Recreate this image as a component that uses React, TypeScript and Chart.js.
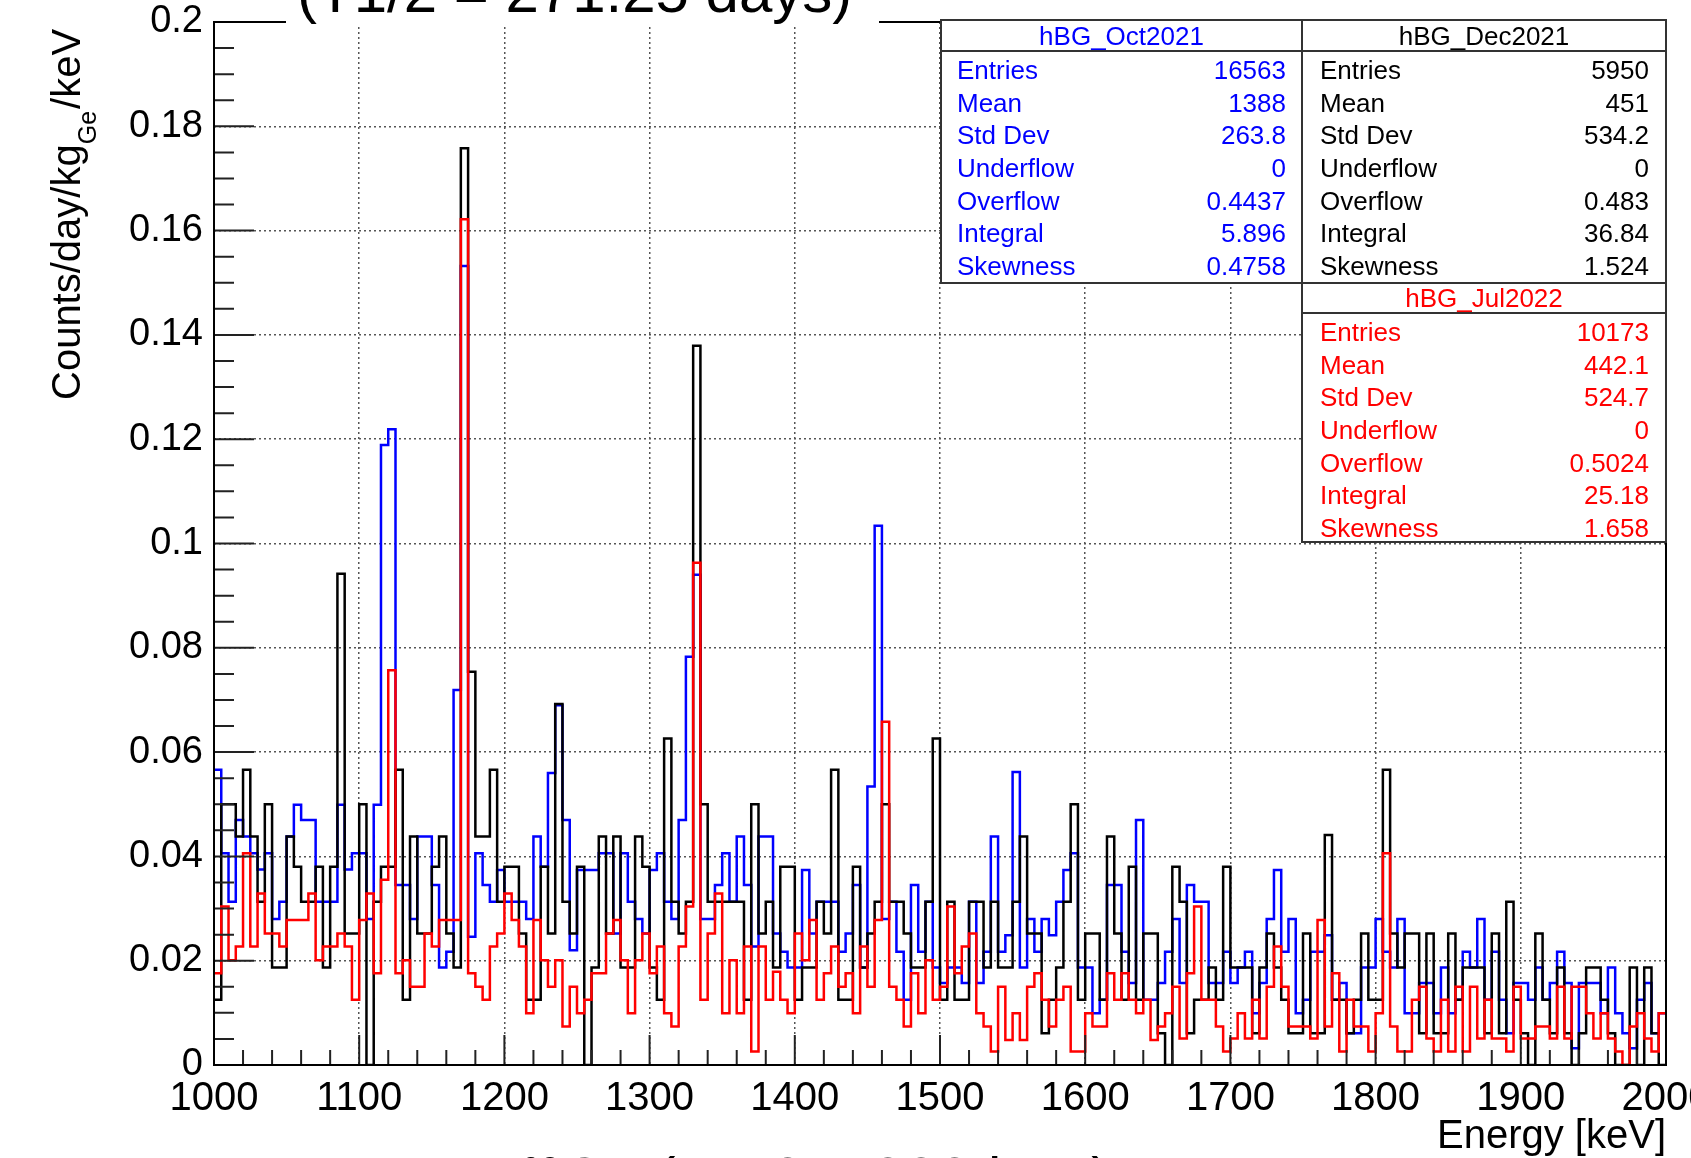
import React, { useEffect, useRef } from "react";
import { Chart, registerables } from "chart.js";

Chart.register(...registerables);

// Histogram binning: 200 bins of 5 keV from 1000 keV
const BIN_START = 1000;
const BIN_WIDTH = 5;

const X_TICKS = [1000, 1100, 1200, 1300, 1400, 1500, 1600, 1700, 1800, 1900, 2000];
const Y_TICKS = [0, 0.02, 0.04, 0.06, 0.08, 0.1, 0.12, 0.14, 0.16, 0.18, 0.2];

// hBG_Oct2021 (blue)
const OCT2021 = [
  0.0566, 0.0406, 0.0313, 0.047, 0.0438, 0.0406, 0.0375, 0.0406, 0.028, 0.0313,
  0.0438, 0.0499, 0.047, 0.047, 0.0313, 0.0313, 0.0313, 0.0499, 0.0375, 0.0406,
  0.0406, 0.028, 0.0499, 0.1189, 0.1219, 0.0345, 0.0345, 0.028, 0.0438, 0.0438,
  0.0345, 0.0187, 0.0217, 0.0719, 0.1532, 0.0246, 0.0406, 0.0345, 0.0313, 0.0374,
  0.0313, 0.0313, 0.0313, 0.028, 0.0438, 0.038, 0.056, 0.069, 0.047, 0.022,
  0.0374, 0.0374, 0.0374, 0.0406, 0.0406, 0.0252, 0.0406, 0.0313, 0.028, 0.0252,
  0.0374, 0.0406, 0.0313, 0.028, 0.047, 0.0783, 0.094, 0.028, 0.028, 0.0345,
  0.0406, 0.0313, 0.0438, 0.0345, 0.0227, 0.0438, 0.0438, 0.0252, 0.0217, 0.0187,
  0.0187, 0.0374, 0.0252, 0.0313, 0.0313, 0.0313, 0.0217, 0.0252, 0.0345, 0.0187,
  0.0534, 0.1034, 0.028, 0.0313, 0.0217, 0.0125, 0.0345, 0.0217, 0.0313, 0.0187,
  0.0157, 0.0187, 0.0187, 0.0157, 0.0313, 0.0157, 0.0217, 0.0438, 0.0217, 0.0249,
  0.0562, 0.0187, 0.028, 0.0217, 0.028, 0.0249, 0.0313, 0.0374, 0.0406, 0.0187,
  0.0187, 0.0099, 0.0125, 0.0345, 0.0345, 0.0217, 0.0157, 0.047, 0.0125, 0.0125,
  0.0157, 0.0217, 0.028, 0.0157, 0.0345, 0.0313, 0.0313, 0.0157, 0.0157, 0.0217,
  0.0157, 0.0187, 0.0217, 0.0099, 0.0157, 0.028, 0.0374, 0.0217, 0.028, 0.0099,
  0.0125, 0.0217, 0.0217, 0.0249, 0.0125, 0.0157, 0.0061, 0.0061, 0.0187, 0.0187,
  0.028, 0.0217, 0.0187, 0.028, 0.0099, 0.0099, 0.0157, 0.0157, 0.0099, 0.0187,
  0.0099, 0.0125, 0.0217, 0.0187, 0.028, 0.0125, 0.0217, 0.0125, 0.0061, 0.0157,
  0.0157, 0.0125, 0.0187, 0.0125, 0.0157, 0.0217, 0.0157, 0.0032, 0.0157, 0.0157,
  0.0157, 0.0099, 0.0187, 0.0099, 0.0061, 0.0032, 0.0125, 0.0157, 0.0061, 0.0099,
];

// hBG_Dec2021 (black)
const DEC2021 = [
  0.0125, 0.05, 0.05, 0.0438, 0.0566, 0.0438, 0.0313, 0.05, 0.0187, 0.0187,
  0.0438, 0.038, 0.0313, 0.0313, 0.038, 0.0187, 0.038, 0.0942, 0.0252, 0.0252,
  0.05, 0, 0.0313, 0.038, 0.038, 0.0566, 0.0125, 0.0438, 0.0252, 0.0252,
  0.038, 0.0438, 0.0252, 0.0187, 0.1758, 0.0754, 0.0438, 0.0438, 0.0566, 0.0313,
  0.038, 0.038, 0.0252, 0.0125, 0.0125, 0.038, 0.0252, 0.0692, 0.0313, 0.0252,
  0.038, 0, 0.0187, 0.0438, 0.0252, 0.0438, 0.0187, 0.0187, 0.0438, 0.038,
  0.0187, 0.0125, 0.0626, 0.0313, 0.0252, 0.0313, 0.1379, 0.05, 0.0313, 0.0313,
  0.0313, 0.0313, 0.0313, 0.0125, 0.05, 0.0252, 0.0313, 0.0187, 0.038, 0.038,
  0.0125, 0.0187, 0.0187, 0.0313, 0.0252, 0.0566, 0.0125, 0.0125, 0.038, 0.0187,
  0.0252, 0.0313, 0.05, 0.0313, 0.0313, 0.0252, 0.0187, 0.0187, 0.0313, 0.0626,
  0.0125, 0.0313, 0.0125, 0.0125, 0.0313, 0.0313, 0.0187, 0.0313, 0.0187, 0.0187,
  0.0313, 0.0438, 0.0252, 0.0252, 0.0061, 0.0125, 0.0187, 0.0313, 0.05, 0.0125,
  0.0252, 0.0252, 0.0125, 0.0438, 0.0252, 0.0125, 0.038, 0.0125, 0.0252, 0.0252,
  0.0061, 0, 0.038, 0.0313, 0.0061, 0.0125, 0.0125, 0.0187, 0.0125, 0.038,
  0.0187, 0.0187, 0.0187, 0.0061, 0.0187, 0.0252, 0.0187, 0.0125, 0.0061, 0.0061,
  0.0252, 0.0061, 0.0061, 0.0441, 0.0125, 0.0125, 0.0061, 0.0125, 0.0252, 0.0125,
  0.0125, 0.0566, 0.0252, 0.0187, 0.0252, 0.0252, 0.0061, 0.0252, 0.0061, 0.0061,
  0.0252, 0.0125, 0.0187, 0.0187, 0.0187, 0.0061, 0.0252, 0.0061, 0.0313, 0.0125,
  0.0061, 0, 0.0252, 0.0125, 0.0061, 0.0187, 0.0061, 0, 0.0061, 0.0187,
  0.0187, 0.0125, 0.0061, 0, 0, 0.0187, 0, 0.0187, 0.0061, 0,
];

// hBG_Jul2022 (red)
const JUL2022 = [
  0.0176, 0.0304, 0.0201, 0.0227, 0.0406, 0.0227, 0.0329, 0.0252, 0.0252, 0.0227,
  0.0278, 0.0278, 0.0278, 0.0329, 0.0201, 0.0227, 0.0227, 0.0252, 0.0227, 0.0125,
  0.0278, 0.0329, 0.0176, 0.0355, 0.0757, 0.0176, 0.0201, 0.015, 0.015, 0.0252,
  0.0227, 0.0278, 0.0278, 0.0278, 0.1622, 0.0176, 0.015, 0.0125, 0.0227, 0.0252,
  0.0329, 0.0278, 0.0227, 0.0099, 0.0278, 0.0201, 0.015, 0.0201, 0.0074, 0.015,
  0.0099, 0.0125, 0.0176, 0.0176, 0.0252, 0.0278, 0.0201, 0.0099, 0.0201, 0.0252,
  0.0176, 0.0227, 0.0099, 0.0074, 0.0227, 0.0304, 0.0963, 0.0125, 0.0252, 0.0329,
  0.0099, 0.0201, 0.0099, 0.0227, 0.0026, 0.0227, 0.0125, 0.0179, 0.0125, 0.0099,
  0.0252, 0.0201, 0.0278, 0.0125, 0.0176, 0.0227, 0.015, 0.0176, 0.0099, 0.0227,
  0.015, 0.0278, 0.0658, 0.015, 0.0125, 0.0074, 0.0176, 0.0099, 0.0201, 0.0125,
  0.015, 0.0304, 0.0176, 0.0227, 0.0252, 0.0099, 0.0074, 0.0026, 0.015, 0.0048,
  0.0099, 0.0048, 0.015, 0.0176, 0.0125, 0.0074, 0.0125, 0.015, 0.0026, 0.0026,
  0.0099, 0.0074, 0.0074, 0.0176, 0.0125, 0.0176, 0.0125, 0.0099, 0.0125, 0.0048,
  0.0074, 0.0099, 0.015, 0.0051, 0.0176, 0.0304, 0.0125, 0.0125, 0.0074, 0.0026,
  0.0051, 0.0099, 0.0051, 0.0125, 0.0051, 0.015, 0.0227, 0.015, 0.0074, 0.0074,
  0.0074, 0.0051, 0.0278, 0.0074, 0.0176, 0.0026, 0.0125, 0.0074, 0.0074, 0.0026,
  0.0099, 0.0406, 0.0074, 0.0026, 0.0026, 0.0125, 0.015, 0.0051, 0.0026, 0.0125,
  0.0026, 0.015, 0.0026, 0.015, 0.0051, 0.0125, 0.0051, 0.0051, 0.0026, 0.015,
  0.0051, 0.0051, 0.0074, 0.0074, 0.0051, 0.015, 0.0051, 0.015, 0.015, 0.0099,
  0.0051, 0.0099, 0.0051, 0.0026, 0, 0.0074, 0.0099, 0.0051, 0.0026, 0.0099,
];

const STAT_LABELS = ["Entries", "Mean", "Std Dev", "Underflow", "Overflow", "Integral", "Skewness"];
const STATS_OCT = ["16563", "1388", "263.8", "0", "0.4437", "5.896", "0.4758"];
const STATS_DEC = ["5950", "451", "534.2", "0", "0.483", "36.84", "1.524"];
const STATS_JUL = ["10173", "442.1", "524.7", "0", "0.5024", "25.18", "1.658"];

const TITLE_TEXT = "(T1/2 = 271.25 days)";
const CAPTION_SUP = "60";
const CAPTION_TEXT = "Co (1173, 1332 keV)";
const X_TITLE = "Energy [keV]";

const FONT = "'Liberation Sans', Arial, Helvetica, sans-serif";

function toSteps(values: number[]) {
  const pts = values.map((v, i) => ({ x: BIN_START + i * BIN_WIDTH, y: v }));
  pts.push({ x: BIN_START + values.length * BIN_WIDTH, y: values[values.length - 1] });
  return pts;
}

const W = 1691;
const H = 1158;

export default function App() {
  const ref = useRef<HTMLCanvasElement | null>(null);

  useEffect(() => {
    const canvas = ref.current;
    if (!canvas) return;

    const decor = {
      id: "rootDecor",
      beforeDraw(chart: any) {
        const ctx = chart.ctx;
        ctx.save();
        ctx.fillStyle = "#ffffff";
        ctx.fillRect(0, 0, W, H);
        ctx.restore();
      },
      afterDatasetsDraw(chart: any) {
        const ctx = chart.ctx;
        const { left, right, top, bottom } = chart.chartArea;
        const xs = chart.scales.x;
        const ys = chart.scales.y;
        ctx.save();
        // inward tick marks
        ctx.strokeStyle = "#222";
        ctx.lineWidth = 2;
        ctx.beginPath();
        for (let k = 0; k <= 40; k++) {
          const v = k * 0.005;
          const py = ys.getPixelForValue(v);
          const len = k % 4 === 0 ? 40 : 20;
          ctx.moveTo(left, py);
          ctx.lineTo(left + len, py);
        }
        for (let k = 0; k <= 50; k++) {
          const v = 1000 + k * 20;
          const px = xs.getPixelForValue(v);
          const len = k % 5 === 0 ? 30 : 15;
          ctx.moveTo(px, bottom);
          ctx.lineTo(px, bottom - len);
        }
        ctx.stroke();
        // frame
        ctx.strokeStyle = "#000";
        ctx.lineWidth = 2;
        ctx.strokeRect(left, top, right - left, bottom - top);
        ctx.restore();
      },
      afterDraw(chart: any) {
        const ctx = chart.ctx;
        ctx.save();

        // title (partly outside the picture)
        ctx.fillStyle = "#fff";
        ctx.fillRect(286, 0, 593, 25);
        ctx.fillStyle = "#000";
        ctx.font = `60px ${FONT}`;
        ctx.textAlign = "left";
        ctx.textBaseline = "alphabetic";
        ctx.fillText(TITLE_TEXT, 297, 12);

        // caption below (partly outside the picture)
        ctx.font = `36px ${FONT}`;
        ctx.fillText(CAPTION_SUP, 520, 1183);
        const cx = 520 + ctx.measureText(CAPTION_SUP).width + 2;
        ctx.font = `60px ${FONT}`;
        ctx.fillText(CAPTION_TEXT, cx, 1199);

        // y-axis title with subscript
        ctx.save();
        ctx.translate(80, 400);
        ctx.rotate(-Math.PI / 2);
        ctx.fillStyle = "#000";
        ctx.textAlign = "left";
        ctx.textBaseline = "alphabetic";
        ctx.font = `40px ${FONT}`;
        const p1 = "Counts/day/kg";
        ctx.fillText(p1, 0, 0);
        let off = ctx.measureText(p1).width;
        ctx.font = `25px ${FONT}`;
        ctx.fillText("Ge", off, 16);
        off += ctx.measureText("Ge").width + 2;
        ctx.font = `40px ${FONT}`;
        ctx.fillText("/keV", off, 0);
        ctx.restore();

        // x-axis title
        ctx.fillStyle = "#000";
        ctx.font = `40px ${FONT}`;
        ctx.textAlign = "right";
        ctx.textBaseline = "alphabetic";
        ctx.fillText(X_TITLE, 1666, 1148);

        // stats boxes
        const drawBox = (
          x0: number, y0: number, x1: number, y1: number, hdrY: number,
          name: string, values: string[], color: string,
          labelX: number, valueX: number, rowYs: number[]
        ) => {
          ctx.fillStyle = "#fff";
          ctx.fillRect(x0, y0, x1 - x0, y1 - y0);
          ctx.strokeStyle = "#333";
          ctx.lineWidth = 2;
          ctx.strokeRect(x0, y0, x1 - x0, y1 - y0);
          ctx.beginPath();
          ctx.moveTo(x0, hdrY);
          ctx.lineTo(x1, hdrY);
          ctx.stroke();
          ctx.fillStyle = color;
          ctx.font = `26px ${FONT}`;
          ctx.textBaseline = "middle";
          ctx.textAlign = "center";
          ctx.fillText(name, (x0 + x1) / 2, (y0 + hdrY) / 2 + 2);
          for (let i = 0; i < STAT_LABELS.length; i++) {
            ctx.textAlign = "left";
            ctx.fillText(STAT_LABELS[i], labelX, rowYs[i]);
            ctx.textAlign = "right";
            ctx.fillText(values[i], valueX, rowYs[i]);
          }
        };
        const rows1 = [72, 104.5, 137, 169.5, 202.5, 235, 268];
        const rows3 = [334, 366.5, 399, 431.5, 464.5, 497, 530];
        drawBox(941, 20, 1302, 283, 51, "hBG_Oct2021", STATS_OCT, "#0000ff", 957, 1286, rows1);
        drawBox(1302, 20, 1666, 283, 51, "hBG_Dec2021", STATS_DEC, "#000000", 1320, 1649, rows1);
        drawBox(1302, 283, 1666, 542, 313, "hBG_Jul2022", STATS_JUL, "#ff0000", 1320, 1649, rows3);

        ctx.restore();
      },
    };

    const chart = new Chart(canvas, {
      type: "line",
      data: {
        datasets: [
          {
            label: "hBG_Jul2022",
            data: toSteps(JUL2022),
            borderColor: "#ff0000",
            borderWidth: 2.5,
            pointRadius: 0,
            stepped: "before",
            fill: false,
          },
          {
            label: "hBG_Dec2021",
            data: toSteps(DEC2021),
            borderColor: "#000000",
            borderWidth: 2.5,
            pointRadius: 0,
            stepped: "before",
            fill: false,
          },
          {
            label: "hBG_Oct2021",
            data: toSteps(OCT2021),
            borderColor: "#0000ff",
            borderWidth: 2.5,
            pointRadius: 0,
            stepped: "before",
            fill: false,
          },
        ],
      },
      options: {
        responsive: false,
        animation: false,
        devicePixelRatio: 1,
        layout: { padding: { left: 0, top: 22, right: 25, bottom: 0 } },
        plugins: {
          legend: { display: false },
          tooltip: { enabled: false },
          title: { display: false },
        },
        scales: {
          x: {
            type: "linear",
            min: 1000,
            max: 2000,
            afterBuildTicks: (s: any) => {
              s.ticks = X_TICKS.map((v) => ({ value: v }));
            },
            afterFit: (s: any) => {
              s.height = 93;
              s.paddingLeft = 0;
              s.paddingRight = 0;
            },
            ticks: {
              color: "#000",
              font: { family: FONT, size: 40 },
              padding: 10,
              maxRotation: 0,
              autoSkip: false,
              callback: (v: any) => String(v),
            },
            grid: { color: "#555", lineWidth: 1.5, drawTicks: false },
            border: { display: false, dash: [2, 3] },
          },
          y: {
            type: "linear",
            min: 0,
            max: 0.2,
            afterBuildTicks: (s: any) => {
              s.ticks = Y_TICKS.map((v) => ({ value: v }));
            },
            afterFit: (s: any) => {
              s.width = 214;
              s.paddingTop = 0;
              s.paddingBottom = 0;
            },
            ticks: {
              color: "#000",
              font: { family: FONT, size: 38 },
              padding: 11,
              autoSkip: false,
              callback: (v: any) => String(Number(Number(v).toFixed(3))),
            },
            grid: { color: "#555", lineWidth: 1.5, drawTicks: false },
            border: { display: false, dash: [2, 3] },
          },
        },
      },
      plugins: [decor],
    } as any);

    return () => {
      chart.destroy();
    };
  }, []);

  return (
    <div style={{ position: "fixed", left: 0, top: 0, width: W, height: H, background: "#fff" }}>
      <canvas ref={ref} width={W} height={H} style={{ width: W, height: H, display: "block" }} />
    </div>
  );
}
